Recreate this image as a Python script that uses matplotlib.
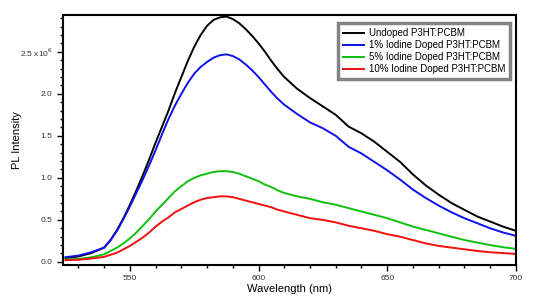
import numpy as np
import matplotlib
matplotlib.use("Agg")
import matplotlib.pyplot as plt
from matplotlib.ticker import MultipleLocator, FuncFormatter

plt.rcParams['font.family'] = ['Liberation Sans', 'DejaVu Sans']

# wavelength (nm) and PL intensity (x1e6)
wl = [525, 530, 535,
      540, 542.5, 545, 547.5, 550, 552.5, 555, 557.5, 560, 562.5, 565, 567.5,
      570, 572.5, 575, 577.5, 580, 582.5, 585, 587.5, 590, 592.5, 595, 597.5,
      600, 602.5, 605, 607.5, 610,
      615, 620, 625, 630, 635, 640, 645, 650, 655, 660, 665, 670, 675, 680,
      685, 690, 695, 700]
undoped = [0.045, 0.065, 0.105,
           0.17, 0.26, 0.38, 0.52, 0.68, 0.85, 1.03, 1.22, 1.42, 1.61, 1.80, 2.01,
           2.20, 2.39, 2.56, 2.70, 2.81, 2.88, 2.91, 2.92, 2.89, 2.84, 2.77, 2.69,
           2.60, 2.50, 2.39, 2.29, 2.20,
           2.06, 1.95, 1.85, 1.75, 1.61, 1.53, 1.43, 1.31, 1.19, 1.04, 0.91, 0.80,
           0.70, 0.62, 0.54, 0.48, 0.42, 0.37]
iod1 = [0.056, 0.075, 0.115,
        0.17, 0.26, 0.37, 0.51, 0.66, 0.82, 0.98, 1.15, 1.33, 1.52, 1.70, 1.86,
        2.00, 2.13, 2.24, 2.32, 2.38, 2.43, 2.46, 2.47, 2.45, 2.41, 2.35, 2.28,
        2.20, 2.11, 2.02, 1.94, 1.87,
        1.76, 1.66, 1.59, 1.50, 1.37, 1.29, 1.19, 1.09, 0.98, 0.86, 0.76, 0.67,
        0.59, 0.52, 0.46, 0.40, 0.35, 0.31]
iod5 = [0.03, 0.035, 0.055,
        0.09, 0.13, 0.17, 0.22, 0.28, 0.35, 0.43, 0.51, 0.60, 0.68, 0.76, 0.84,
        0.90, 0.96, 1.00, 1.03, 1.05, 1.07, 1.08, 1.08, 1.07, 1.05, 1.02, 0.99,
        0.96, 0.92, 0.89, 0.85, 0.82,
        0.78, 0.75, 0.71, 0.68, 0.64, 0.60, 0.56, 0.52, 0.47, 0.42, 0.38, 0.34,
        0.30, 0.26, 0.23, 0.20, 0.175, 0.155]
iod10 = [0.02, 0.026, 0.04,
         0.06, 0.085, 0.11, 0.15, 0.19, 0.24, 0.29, 0.35, 0.42, 0.48, 0.53, 0.59,
         0.63, 0.67, 0.71, 0.74, 0.76, 0.77, 0.78, 0.78, 0.77, 0.75, 0.73, 0.71,
         0.69, 0.67, 0.65, 0.62, 0.60,
         0.56, 0.52, 0.50, 0.47, 0.43, 0.40, 0.37, 0.33, 0.30, 0.26, 0.22, 0.19,
         0.17, 0.15, 0.13, 0.115, 0.105, 0.095]

labels = ["Undoped P3HT:PCBM", "1% Iodine Doped P3HT:PCBM",
          "5% Iodine Doped P3HT:PCBM", "10% Iodine Doped P3HT:PCBM"]
colors = ["black", "#1010e8", "#10c010", "#f01010"]

fig = plt.figure(figsize=(5.36, 2.97), dpi=100)
ax = fig.add_axes([0.1175, 0.108, 0.845, 0.842])

for y, lab, c in zip([undoped, iod1, iod5, iod10], labels, colors):
    ax.plot(wl, np.array(y) * 1e6, color=c, lw=1.4, label=lab)

ax.set_xlim(524, 700)
ax.set_ylim(-0.036e6, 2.94e6)
ax.xaxis.set_major_locator(MultipleLocator(50))
ax.xaxis.set_minor_locator(MultipleLocator(10))
ax.yaxis.set_major_locator(MultipleLocator(0.5e6))
ax.yaxis.set_minor_locator(MultipleLocator(0.1e6))

def yfmt(v, pos):
    if abs(v - 2.5e6) < 1:
        return "2.5 x10$^6$"
    return "%.1f" % (v / 1e6)

ax.yaxis.set_major_formatter(FuncFormatter(yfmt))
ax.tick_params(which='major', direction='out', length=4, width=1, labelsize=6,
               labelcolor='#333333')
ax.tick_params(which='minor', direction='out', length=2.5, width=1)
ax.tick_params(top=False, right=False)
for s in ax.spines.values():
    s.set_linewidth(1.5)

ax.set_xlabel("Wavelength (nm)", fontsize=8, labelpad=1)
ax.set_ylabel("PL Intensity", fontsize=8)
ax.yaxis.set_label_coords(-0.09, 0.5)

leg = ax.legend(loc='upper right', bbox_to_anchor=(0.988, 0.966), fontsize=7,
                frameon=True, fancybox=False, handlelength=2.2, handletextpad=0.5,
                borderpad=0.5, labelspacing=0.2, borderaxespad=0)
leg.get_frame().set_edgecolor('#666666')
leg.get_frame().set_linewidth(2.5)

fig.savefig("out.png", dpi=100)
